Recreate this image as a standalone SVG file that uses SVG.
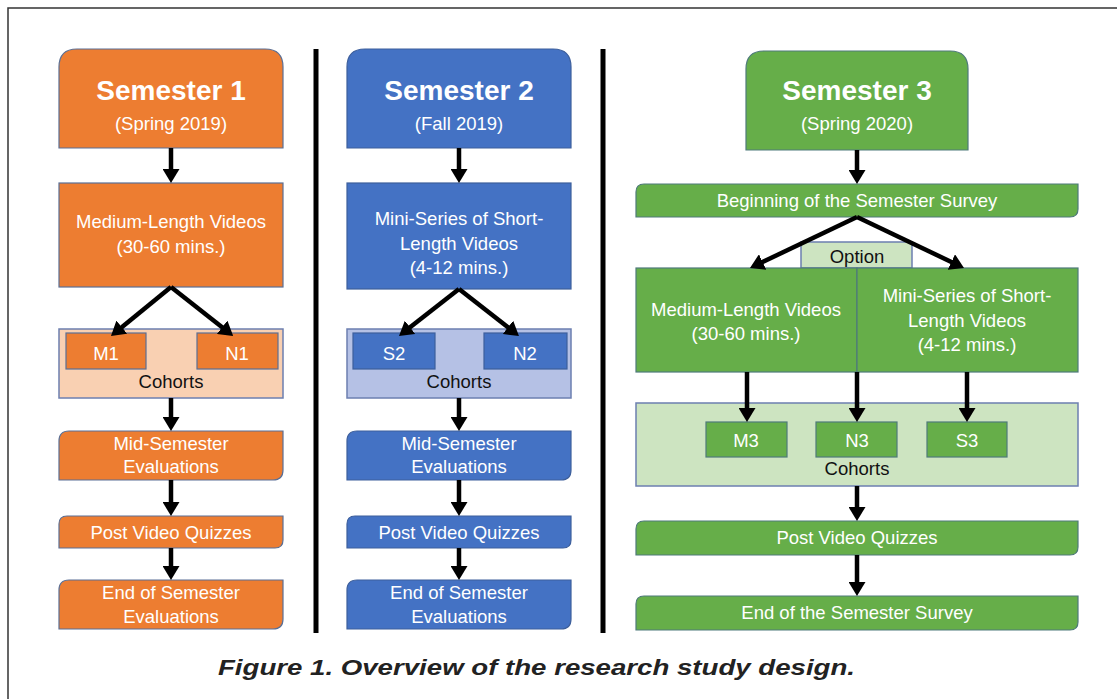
<svg xmlns="http://www.w3.org/2000/svg" width="1117" height="699" viewBox="0 0 1117 699">
<defs>
<marker id="ah" viewBox="0 0 14 17" refX="4" refY="8.5" markerWidth="14" markerHeight="17" markerUnits="userSpaceOnUse" orient="auto">
<path d="M0,0 L14,8.5 L0,17 z" fill="#000"/>
</marker>
</defs>
<style>
.t{font-family:"Liberation Sans",Arial,sans-serif;font-size:18.5px;fill:#fff;text-anchor:middle}
.k{font-family:"Liberation Sans",Arial,sans-serif;font-size:18.5px;fill:#111;text-anchor:middle}
.h{font-family:"Liberation Sans",Arial,sans-serif;font-size:28px;font-weight:bold;fill:#fff;text-anchor:middle}
.o{fill:#ed7d31;stroke:#5a6f95;stroke-width:1.2}
.b{fill:#4472c4;stroke:#3d5f9c;stroke-width:1.2}
.g{fill:#66ae49;stroke:#4e7a7a;stroke-width:1.2}
.ol{fill:#f9d0b2;stroke:#6c7fb0;stroke-width:1.5}
.bl{fill:#b5c1e5;stroke:#6c7fb0;stroke-width:1.5}
.gl{fill:#cde4c1;stroke:#6c7fb0;stroke-width:1.5}
.arr{stroke:#000;stroke-width:4.5;fill:none;marker-end:url(#ah)}
.sep{stroke:#000;stroke-width:5}
</style>
<rect x="0" y="0" width="1117" height="699" fill="#fff"/>
<path d="M8,699 L8,8 L1117,8" fill="none" stroke="#333" stroke-width="1.5"/>
<line class="sep" x1="316" y1="49" x2="316" y2="633"/>
<line class="sep" x1="603" y1="49" x2="603" y2="633"/>

<!-- Column 1 -->
<g id="sem1">
<path class="o" d="M59,148 L59,67 Q59,49 77,49 L265,49 Q283,49 283,67 L283,148 Z"/>
<text class="h" x="171" y="100">Semester 1</text>
<text class="t" x="171" y="130">(Spring 2019)</text>
</g>
<g id="med1">
<rect class="o" x="59" y="183" width="224" height="104"/>
<text class="t" x="171" y="228">Medium-Length Videos</text>
<text class="t" x="171" y="253">(30-60 mins.)</text>
</g>
<g id="coh1">
<rect class="ol" x="59" y="329" width="224" height="69"/>
<text class="k" x="171" y="388">Cohorts</text>
</g>
<g id="m1">
<rect class="o" x="66" y="333" width="80" height="36"/>
<text class="t" x="106" y="360">M1</text>
</g>
<g id="n1">
<rect class="o" x="197" y="333" width="81" height="36"/>
<text class="t" x="237" y="360">N1</text>
</g>
<g id="mid1">
<path class="o" d="M69,431 L283,431 L283,470 Q283,480 273,480 L59,480 L59,441 Q59,431 69,431 Z"/>
<text class="t" x="171" y="450">Mid-Semester</text>
<text class="t" x="171" y="473">Evaluations</text>
</g>
<g id="pvq1">
<path class="o" d="M67,516 L283,516 L283,540 Q283,548 275,548 L59,548 L59,524 Q59,516 67,516 Z"/>
<text class="t" x="171" y="539">Post Video Quizzes</text>
</g>
<g id="end1">
<path class="o" d="M69,580 L283,580 L283,619 Q283,629 273,629 L59,629 L59,590 Q59,580 69,580 Z"/>
<text class="t" x="171" y="599">End of Semester</text>
<text class="t" x="171" y="623">Evaluations</text>
</g>

<!-- Column 2 -->
<g id="sem2">
<path class="b" d="M347,148 L347,67 Q347,49 365,49 L553,49 Q571,49 571,67 L571,148 Z"/>
<text class="h" x="459" y="100">Semester 2</text>
<text class="t" x="459" y="130">(Fall 2019)</text>
</g>
<g id="mini2">
<rect class="b" x="347" y="183" width="224" height="106"/>
<text class="t" x="459" y="225">Mini-Series of Short-</text>
<text class="t" x="459" y="250">Length Videos</text>
<text class="t" x="459" y="274">(4-12 mins.)</text>
</g>
<g id="coh2">
<rect class="bl" x="347" y="329" width="224" height="69"/>
<text class="k" x="459" y="388">Cohorts</text>
</g>
<g id="s2">
<rect class="b" x="353" y="333" width="82" height="36"/>
<text class="t" x="394" y="360">S2</text>
</g>
<g id="n2">
<rect class="b" x="484" y="333" width="83" height="36"/>
<text class="t" x="525" y="360">N2</text>
</g>
<g id="mid2">
<path class="b" d="M357,431 L571,431 L571,470 Q571,480 561,480 L347,480 L347,441 Q347,431 357,431 Z"/>
<text class="t" x="459" y="450">Mid-Semester</text>
<text class="t" x="459" y="473">Evaluations</text>
</g>
<g id="pvq2">
<path class="b" d="M355,516 L571,516 L571,540 Q571,548 563,548 L347,548 L347,524 Q347,516 355,516 Z"/>
<text class="t" x="459" y="539">Post Video Quizzes</text>
</g>
<g id="end2">
<path class="b" d="M357,580 L571,580 L571,619 Q571,629 561,629 L347,629 L347,590 Q347,580 357,580 Z"/>
<text class="t" x="459" y="599">End of Semester</text>
<text class="t" x="459" y="623">Evaluations</text>
</g>

<!-- Column 3 -->
<g id="sem3">
<path class="g" d="M746,150 L746,69 Q746,51 764,51 L950,51 Q968,51 968,69 L968,150 Z"/>
<text class="h" x="857" y="100">Semester 3</text>
<text class="t" x="857" y="130">(Spring 2020)</text>
</g>
<g id="bos3">
<path class="g" d="M644,184 L1078,184 L1078,209 Q1078,217 1070,217 L636,217 L636,192 Q636,184 644,184 Z"/>
<text class="t" x="857" y="207">Beginning of the Semester Survey</text>
</g>
<g id="option3">
<rect class="gl" x="801" y="242" width="111" height="26"/>
<text class="k" x="857" y="263">Option</text>
</g>
<g id="med3">
<rect class="g" x="636" y="268" width="221" height="104"/>
<text class="t" x="746" y="316">Medium-Length Videos</text>
<text class="t" x="746" y="340">(30-60 mins.)</text>
</g>
<g id="mini3">
<rect class="g" x="857" y="268" width="221" height="104"/>
<text class="t" x="967" y="302">Mini-Series of Short-</text>
<text class="t" x="967" y="327">Length Videos</text>
<text class="t" x="967" y="351">(4-12 mins.)</text>
</g>
<g id="coh3">
<rect class="gl" x="636" y="403" width="442" height="83"/>
<text class="k" x="857" y="475">Cohorts</text>
</g>
<g id="m3">
<rect class="g" x="706" y="422" width="81" height="35"/>
<text class="t" x="746" y="447">M3</text>
</g>
<g id="n3">
<rect class="g" x="816" y="422" width="81" height="35"/>
<text class="t" x="857" y="447">N3</text>
</g>
<g id="s3">
<rect class="g" x="927" y="422" width="80" height="35"/>
<text class="t" x="967" y="447">S3</text>
</g>
<g id="pvq3">
<path class="g" d="M644,521 L1078,521 L1078,547 Q1078,555 1070,555 L636,555 L636,529 Q636,521 644,521 Z"/>
<text class="t" x="857" y="544">Post Video Quizzes</text>
</g>
<g id="eos3">
<path class="g" d="M644,596 L1078,596 L1078,622 Q1078,630 1070,630 L636,630 L636,604 Q636,596 644,596 Z"/>
<text class="t" x="857" y="619">End of the Semester Survey</text>
</g>

<g id="connectors">
<line class="arr" x1="171" y1="148" x2="171" y2="173"/>
<line class="arr" x1="171" y1="287" x2="118.7" y2="329.7"/>
<line class="arr" x1="171" y1="287" x2="225.3" y2="329.7"/>
<line class="arr" x1="171" y1="398" x2="171" y2="421"/>
<line class="arr" x1="171" y1="480" x2="171" y2="506"/>
<line class="arr" x1="171" y1="548" x2="171" y2="570"/>

<line class="arr" x1="459" y1="148" x2="459" y2="173"/>
<line class="arr" x1="459" y1="289" x2="406.9" y2="329.8"/>
<line class="arr" x1="459" y1="289" x2="511.1" y2="329.8"/>
<line class="arr" x1="459" y1="398" x2="459" y2="421"/>
<line class="arr" x1="459" y1="480" x2="459" y2="506"/>
<line class="arr" x1="459" y1="548" x2="459" y2="570"/>

<line class="arr" x1="857" y1="150" x2="857" y2="174"/>
<line class="arr" x1="857" y1="217" x2="759" y2="263.7"/>
<line class="arr" x1="857" y1="217" x2="955" y2="263.7"/>
<line class="arr" x1="747" y1="372" x2="747" y2="412"/>
<line class="arr" x1="857" y1="372" x2="857" y2="412"/>
<line class="arr" x1="967" y1="372" x2="967" y2="412"/>
<line class="arr" x1="857" y1="486" x2="857" y2="511"/>
<line class="arr" x1="857" y1="555" x2="857" y2="586"/>
</g>

<text x="536.5" y="675" font-family="'Liberation Sans',Arial,sans-serif" font-size="22" font-weight="bold" font-style="italic" fill="#222" text-anchor="middle" textLength="637" lengthAdjust="spacingAndGlyphs">Figure 1. Overview of the research study design.</text>
</svg>
